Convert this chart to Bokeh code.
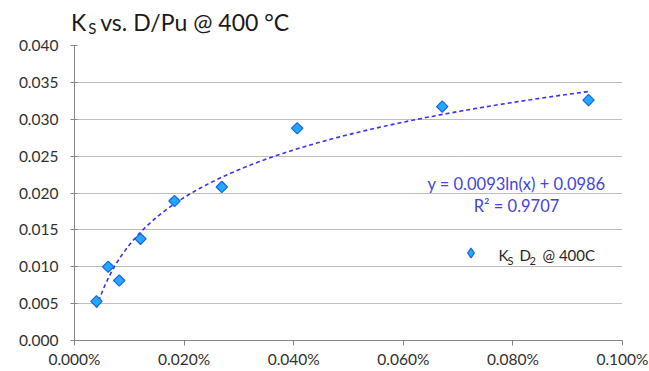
import numpy as np
from bokeh.plotting import figure
from bokeh.layouts import column
from bokeh.models import (Range1d, FixedTicker, NumeralTickFormatter, Label,
                          Legend, LegendItem, Div)
from bokeh.core.properties import value
from bokeh.embed import file_html
from bokeh.resources import INLINE

# ---- data ----
d_pu = [0.0000401, 0.0000615, 0.0000816, 0.0001204, 0.0001825,
        0.0002688, 0.0004064, 0.000671, 0.000938]          # D/Pu (fraction, shown as %)
ks = [0.00531, 0.01000, 0.00814, 0.01378, 0.01891,
      0.02082, 0.02878, 0.03172, 0.03260]                   # K_S
fit_a = 0.0093
fit_b = 0.0986
fit_r2 = 0.9707
x_ticks = [0.0, 0.0002, 0.0004, 0.0006, 0.0008, 0.0010]
y_ticks = [0.0, 0.005, 0.010, 0.015, 0.020, 0.025, 0.030, 0.035, 0.040]

FONT = "Lato"
BLUE_TXT = "#4343e0"
AXIS_GREY = "#868686"
MARK_FILL = "#22a8ff"
MARK_LINE = "#1a62e6"

title = Div(
    text=('<div style="font-family:Lato;font-size:23px;line-height:23px;'
          'padding:11px 0 0 71px;color:#1a1a1a;white-space:nowrap">'
          'K<span style="font-size:15px;position:relative;top:3px;'
          'margin-left:2px">S </span>vs. D/Pu @ 400 \u00b0C</div>'),
    width=649, height=36, margin=0)

p = figure(width=649, height=335, output_backend="svg", toolbar_location=None,
           x_range=Range1d(0, 0.001), y_range=Range1d(0, 0.04),
           min_border_left=74, min_border_right=27, min_border_top=9,
           min_border_bottom=31, margin=0)
p.outline_line_color = None
p.background_fill_color = "white"
p.border_fill_color = "white"

# axes
p.xaxis.ticker = FixedTicker(ticks=x_ticks)
p.yaxis.ticker = FixedTicker(ticks=y_ticks)
p.xaxis.formatter = NumeralTickFormatter(format="0.000%")
p.yaxis.formatter = NumeralTickFormatter(format="0.000")
for ax in (p.xaxis[0], p.yaxis[0]):
    ax.axis_line_color = AXIS_GREY
    ax.major_tick_line_color = AXIS_GREY
    ax.minor_tick_line_color = None
    ax.major_label_text_font = FONT
    ax.major_label_text_font_size = "15.5px"
    ax.major_label_text_color = "#303030"
p.xaxis.major_tick_in = 0
p.xaxis.major_tick_out = 5
p.xaxis.major_label_standoff = 4
p.yaxis.major_tick_in = 3
p.yaxis.major_tick_out = 4
p.yaxis.major_label_standoff = 12

# grid
p.xgrid.grid_line_color = None
p.ygrid.grid_line_color = "#7a7a7a"
p.ygrid.grid_line_dash = "1 1"
p.ygrid.grid_line_width = 1

# trendline (logarithmic fit shown on chart)
tx = np.geomspace(min(d_pu), max(d_pu), 200)
ty = fit_a * np.log(tx) + fit_b
p.line(tx, ty, line_color="#3636f0", line_width=1.6, line_dash="4 3")

# data points (square diamonds)
p.scatter(d_pu, ks, marker="square", angle=np.pi / 4, size=8,
          fill_color=MARK_FILL, line_color=MARK_LINE, line_width=1.2)

# legend key (renderer with a single undefined point, used only for the swatch)
key = p.scatter(x=[np.nan], y=[np.nan], marker="diamond", size=10,
                fill_color=MARK_FILL, line_color=MARK_LINE, line_width=1.2)
leg = Legend(items=[LegendItem(label=value(" "), renderers=[key])],
             location=(383.5, 75.5), padding=0, margin=0, spacing=0,
             glyph_width=25, glyph_height=25, label_standoff=0,
             border_line_color=None, background_fill_alpha=0,
             label_text_font_size="1px")
p.add_layout(leg, "center")

def lab(text, x, y, size, color="#262626", align="left", baseline="alphabetic"):
    p.add_layout(Label(x=x, y=y, x_units="screen", y_units="screen", text=text,
                       text_font=FONT, text_font_size=size,
                       text_color=color, text_align=align,
                       text_baseline=baseline))

# trendline equation
lab("y = 0.0093ln(x) + 0.0986", 442, 157, "16.5px", BLUE_TXT, "center", "middle")
lab("R\u00b2 = 0.9707", 442, 135, "16.5px", BLUE_TXT, "center", "middle")

# legend text  K_S D_2 @ 400C
lab("K", 424, 86, "15px")
lab("S", 433, 80, "11px")
lab("D", 445, 86, "15px")
lab("2", 455, 80, "11px")
lab("@ 400C", 468, 86, "15px")

open("out.html", "w").write(file_html(column(title, p, spacing=0), INLINE))
